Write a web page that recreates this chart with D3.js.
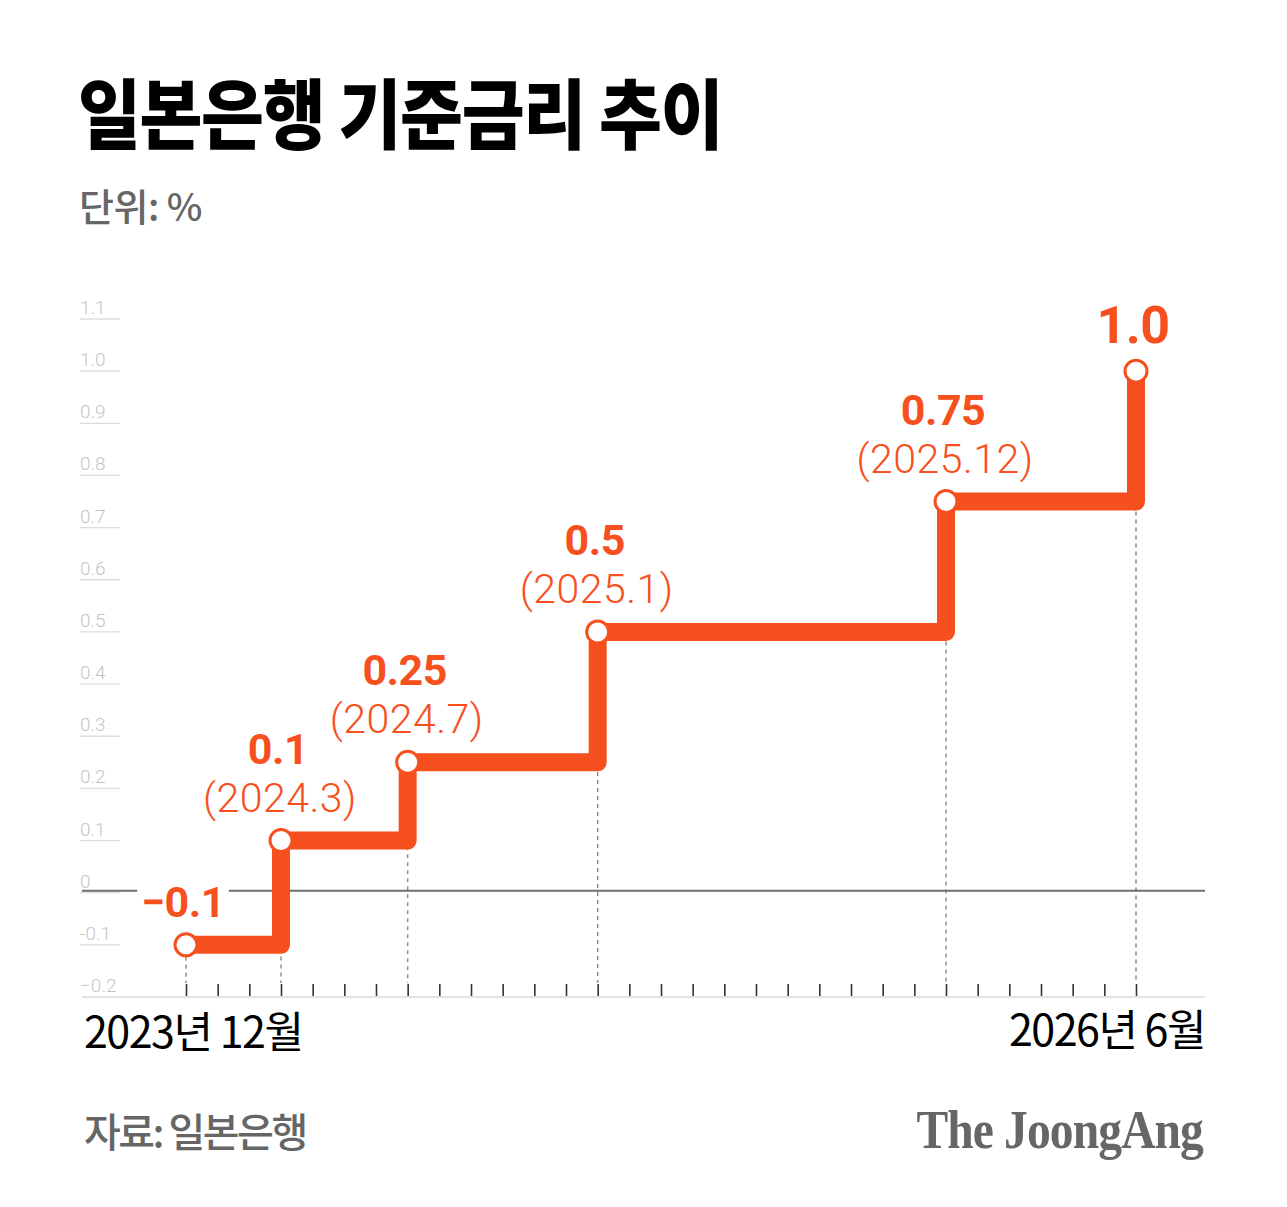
<!DOCTYPE html>
<html>
<head>
<meta charset="utf-8">
<script src="https://cdn.jsdelivr.net/npm/d3@7"></script>
<style>
  html, body { margin: 0; padding: 0; background: #fff; }
  svg { display: block; }
</style>
</head>
<body>
<div id="chart"></div>
<script>
// 일본은행 기준금리 (변경 시점)
var months   = ['2023-12', '2024-03', '2024-07', '2025-01', '2025-12', '2026-06'];
var rates    = [-0.1, 0.1, 0.25, 0.5, 0.75, 1.0];
var valueLbl = ['\u22120.1', '0.1', '0.25', '0.5', '0.75', '1.0'];
var dateLbl  = ['', '(2024.3)', '(2024.7)', '(2025.1)', '(2025.12)', ''];
var yTicks   = [-0.2, -0.1, 0, 0.1, 0.2, 0.3, 0.4, 0.5, 0.6, 0.7, 0.8, 0.9, 1.0, 1.1];
var yTickLbl = ['\u22120.2', '-0.1', '0', '0.1', '0.2', '0.3', '0.4', '0.5', '0.6', '0.7', '0.8', '0.9', '1.0', '1.1'];
var startLbl = '2023년 12월';
var endLbl   = '2026년 6월';

var ORANGE = '#f7501f';
var KR = '"Noto Sans CJK KR", "Noto Sans", sans-serif';
var NUM = 'Roboto, "Liberation Sans", sans-serif';

function monthIdx(s){
    var p = s.split('-');
    return (+p[0]) * 12 + (+p[1] - 1);
}
var m0 = monthIdx(months[0]);
var data = months.map(function(m, i){
    return { m: monthIdx(m) - m0, v: rates[i], val: valueLbl[i], date: dateLbl[i] };
});
var lastM = data[data.length - 1].m;

var svg = d3.select('#chart').append('svg')
    .attr('width', 1287).attr('height', 1207);

var x = d3.scaleLinear().domain([0, lastM]).range([186, 1136]);
var y = d3.scaleLinear().domain([-0.2, 1.1]).range([997, 319]);

// 제목
svg.append('text')
    .attr('transform', 'translate(78,143) scale(0.9,1)')
    .style('font-family', KR).style('font-weight', 900)
    .style('font-size', '76px').style('letter-spacing', '-1.5px')
    .attr('fill', '#000')
    .text('일본은행 기준금리 추이');

svg.append('text')
    .attr('x', 79).attr('y', 221)
    .style('font-family', KR).style('font-weight', 500)
    .style('font-size', '38px').style('letter-spacing', '-0.5px')
    .attr('fill', '#666')
    .text('단위: %');

// y 눈금 (짧은 선 + 라벨)
var yg = svg.append('g');
yg.selectAll('line.grid').data(yTicks.filter(function(d){ return d > -0.2; }))
    .enter().append('line')
    .attr('class', 'grid')
    .attr('x1', 80).attr('x2', 120)
    .attr('y1', function(d){ return y(d); })
    .attr('y2', function(d){ return y(d); })
    .attr('stroke', '#dcdcdc').attr('stroke-width', 1.3);

yg.selectAll('text').data(yTicks)
    .enter().append('text')
    .attr('x', 80)
    .attr('y', function(d){ return y(d) - 5; })
    .style('font-family', NUM).style('font-weight', 300)
    .style('font-size', '19px')
    .attr('fill', '#c4c4c4')
    .text(function(d, i){ return yTickLbl[i]; });

// 바닥선
svg.append('line')
    .attr('x1', 82).attr('x2', 1205)
    .attr('y1', y(-0.2)).attr('y2', y(-0.2))
    .attr('stroke', '#d8d8d8').attr('stroke-width', 1.5);

// 월 눈금
var xAxis = d3.axisBottom(x)
    .tickValues(d3.range(0, lastM + 1))
    .tickSize(-12).tickFormat('');
var gx = svg.append('g')
    .attr('transform', 'translate(0,' + (y(-0.2) - 1) + ')')
    .call(xAxis);
gx.select('.domain').remove();
gx.selectAll('.tick line').attr('stroke', '#333').attr('stroke-width', 1.6);

// 점선
svg.selectAll('line.drop').data(data)
    .enter().append('line')
    .attr('class', 'drop')
    .attr('x1', function(d){ return x(d.m); })
    .attr('x2', function(d){ return x(d.m); })
    .attr('y1', function(d, i){
        if (i == data.length - 1) return y(data[i - 1].v) + 10;
        return y(d.v) + 12;
    })
    .attr('y2', 983)
    .attr('stroke', '#8f8f8f').attr('stroke-width', 1.5)
    .attr('stroke-dasharray', '4,4');

// 0 기준선
svg.append('line')
    .attr('x1', 82).attr('x2', 1205)
    .attr('y1', y(0) - 2).attr('y2', y(0) - 2)
    .attr('stroke', '#6e6e6e').attr('stroke-width', 2);

// 계단선
var line = d3.line()
    .x(function(d){ return x(d.m); })
    .y(function(d){ return y(d.v); })
    .curve(d3.curveStepAfter);

svg.append('path')
    .datum(data)
    .attr('d', line)
    .attr('fill', 'none')
    .attr('stroke', ORANGE)
    .attr('stroke-width', 18)
    .attr('stroke-linejoin', 'round');

svg.selectAll('circle.pt').data(data)
    .enter().append('circle')
    .attr('class', 'pt')
    .attr('cx', function(d){ return x(d.m); })
    .attr('cy', function(d){ return y(d.v); })
    .attr('r', 11)
    .attr('fill', '#fff')
    .attr('stroke', ORANGE).attr('stroke-width', 3);

// 라벨
var lg = svg.append('g');
data.forEach(function(d, i){
    var cx = x(d.m) - 3, cy = y(d.v);
    var last = i == data.length - 1;
    var top = d.date ? cy - 77 : cy - 28;
    var t = lg.append('text')
        .attr('x', cx).attr('y', top)
        .attr('text-anchor', 'middle')
        .style('font-family', NUM).style('font-weight', 700)
        .style('font-size', last ? '52px' : '43px').style('letter-spacing', '-0.5px')
        .attr('fill', ORANGE)
        .text(d.val);
    if (d.v < 0) {
        // 0 기준선을 가리는 흰 배경
        var bb = t.node().getBBox();
        lg.insert('rect', 'text')
            .attr('x', bb.x - 4).attr('y', bb.y)
            .attr('width', bb.width + 8).attr('height', bb.height)
            .attr('fill', '#fff');
    }
    if (d.date) {
        lg.append('text')
            .attr('x', cx + 2).attr('y', cy - 29)
            .attr('text-anchor', 'middle')
            .style('font-family', NUM).style('font-weight', 300)
            .style('font-size', '41px').style('letter-spacing', '0.5px')
            .attr('fill', ORANGE)
            .text(d.date);
    }
});

// x 라벨
svg.append('text')
    .attr('x', 84).attr('y', 1048)
    .style('font-family', KR).style('font-weight', 400)
    .style('font-size', '43px').style('letter-spacing', '-1.5px')
    .attr('fill', '#000')
    .text(startLbl);

svg.append('text')
    .attr('x', 1205).attr('y', 1046)
    .attr('text-anchor', 'end')
    .style('font-family', KR).style('font-weight', 400)
    .style('font-size', '43px').style('letter-spacing', '-1.5px')
    .attr('fill', '#000')
    .text(endLbl);

// 출처
svg.append('text')
    .attr('x', 84).attr('y', 1147)
    .style('font-family', KR).style('font-weight', 500)
    .style('font-size', '40px').style('letter-spacing', '-2.5px')
    .attr('fill', '#666')
    .text('자료: 일본은행');

svg.append('text')
    .attr('transform', 'translate(1203,1148) scale(0.88,1)')
    .attr('text-anchor', 'end')
    .style('font-family', '"Liberation Serif", "DejaVu Serif", serif')
    .style('font-weight', 700)
    .style('font-size', '54px').style('letter-spacing', '-1px')
    .attr('fill', '#666')
    .text('The JoongAng');
</script>
</body>
</html>
